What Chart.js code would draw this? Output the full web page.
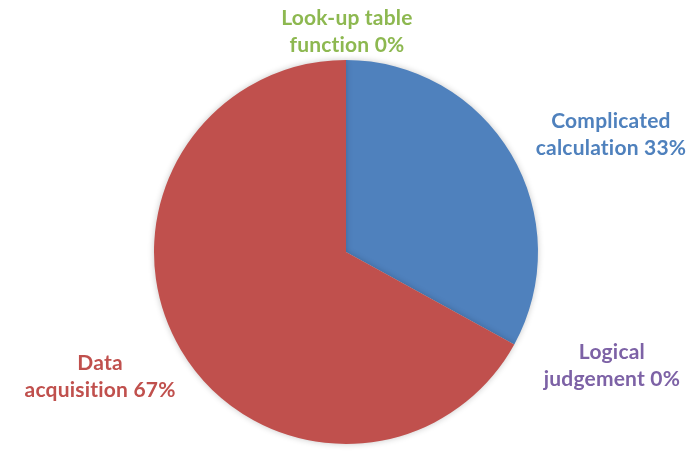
<!DOCTYPE html>
<html>
<head>
<meta charset="utf-8">
<script src="https://cdn.jsdelivr.net/npm/chart.js@4.4.0/dist/chart.umd.min.js"></script>
<style>
    html, body { margin: 0; padding: 0; background: #fff; }
    .wrap { width: 689px; height: 451px; position: relative; }
</style>
</head>
<body>
<div class="wrap"><canvas id="myChart"></canvas></div>
<script>
// data, in drawing order clockwise from 12 o'clock
const categories = ['Complicated calculation', 'Logical judgement', 'Data acquisition', 'Look-up table function'];
const shares = [33, 0, 67, 0];
const sliceColors = ['#4F81BD', '#8064A2', '#C0504D', '#9BBB59'];
const labelLines = [
    ['Complicated', 'calculation 33%'],
    ['Logical', 'judgement 0%'],
    ['Data', 'acquisition 67%'],
    ['Look-up table', 'function 0%']
];
const labelColors = ['#4F81BD', '#7D62A6', '#C0504D', '#8DB850'];

// where each label block sits, as a fraction of the radius from the pie centre
const labelPos = [[1.38, -0.612], [1.385, 0.594], [-1.281, 0.648], [0.005, -1.148]];

let ctx = document.getElementById('myChart');

const pieShadow = {
    id: 'pieShadow',
    beforeDatasetDraw(chart) {
        let c = chart.ctx;
        c.save();
        c.shadowColor = 'rgba(0,0,0,0.22)';
        c.shadowBlur = 6;
    },
    afterDatasetDraw(chart) {
        chart.ctx.restore();
    }
};

const outsideLabels = {
    id: 'outsideLabels',
    afterDraw(chart) {
        let c = chart.ctx;
        let meta = chart.getDatasetMeta(0);
        let arc = meta.data[0];
        let cx = arc.x;
        let cy = arc.y;
        let r = arc.outerRadius;
        c.save();
        c.font = 'bold 21px Lato';
        c.letterSpacing = '0.2px'; // keeps "ti" from joining into a ligature
        c.textAlign = 'center';
        c.textBaseline = 'middle';
        for (let i = 0; i < labelLines.length; i++) {
            let x = cx + labelPos[i][0] * r;
            let y = cy + labelPos[i][1] * r;
            c.fillStyle = labelColors[i];
            let lines = labelLines[i];
            c.fillText(lines[0], x, y - 13.5);
            c.fillText(lines[1], x, y + 13.5);
        }
        c.restore();
    }
};

new Chart(ctx, {
    type: 'pie',
    data: {
        labels: categories,
        datasets: [{
            data: shares,
            backgroundColor: sliceColors,
            borderWidth: 0
        }]
    },
    options: {
        responsive: true,
        maintainAspectRatio: false,
        animation: false,
        layout: {
            padding: { top: 60, bottom: 7, left: 3, right: 0 }
        },
        plugins: {
            legend: { display: false },
            tooltip: { enabled: false }
        }
    },
    plugins: [pieShadow, outsideLabels]
});
</script>
</body>
</html>
